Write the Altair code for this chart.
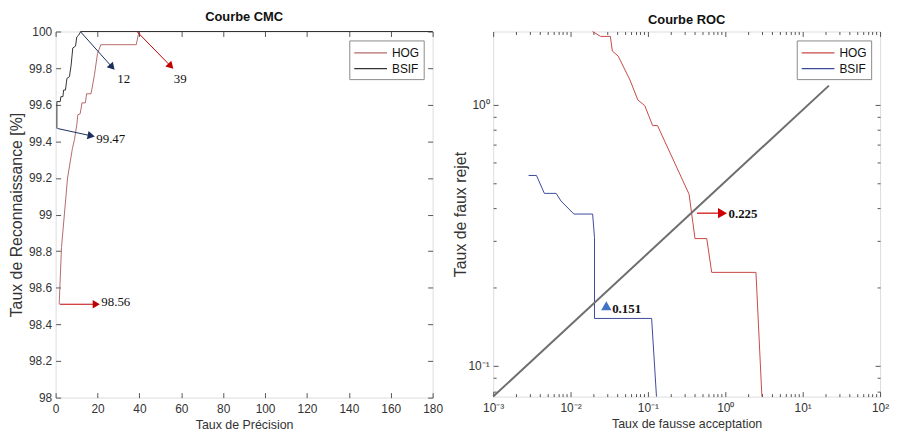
import altair as alt
import pandas as pd

# ---------------- CMC (left) ----------------
cmc_hog_x = [1.7, 2.8, 5.7, 8.0, 9.0, 10.1, 10.6, 11.7, 12.6, 14.2, 14.8, 16.9, 18.5, 20.0, 21.6, 38.5, 39.8, 180]
cmc_hog_y = [98.51, 98.82, 99.20, 99.36, 99.41, 99.49, 99.545, 99.55, 99.61, 99.61, 99.66, 99.66, 99.76, 99.88, 99.928, 99.928, 100, 100]
cmc_bsif_x = [0.6, 0.6, 2.2, 2.5, 3.5, 3.8, 4.7, 5.4, 6.6, 7.4, 8.2, 9.5, 10.1, 11.0, 12.0, 180]
cmc_bsif_y = [99.47, 99.617, 99.617, 99.644, 99.644, 99.68, 99.68, 99.744, 99.753, 99.816, 99.91, 99.92, 99.97, 99.98, 100, 100]

cmc_arrow_x = [11.8, 38.8, 0.9, 2.0]
cmc_arrow_y = [100, 100, 99.47, 98.51]
cmc_arrow_x2 = [27.0, 55.0, 17.0, 19.4]
cmc_arrow_y2 = [99.805, 99.81, 99.43, 98.51]
cmc_arrow_color = ["#1b2f5e", "#c00000", "#1b2f5e", "#c00000"]
cmc_arrow_angle = [48, 46, 12, 0]
cmc_label_text = ["12", "39", "99.47", "98.56"]
cmc_label_x = [29.4, 56.4, 19.4, 21.8]
cmc_label_y = [99.74, 99.74, 99.415, 98.52]

cmc_x_ticks = [0, 20, 40, 60, 80, 100, 120, 140, 160, 180]
cmc_y_ticks = [98, 98.2, 98.4, 98.6, 98.8, 99, 99.2, 99.4, 99.6, 99.8, 100]

# ---------------- ROC (right) ----------------
roc_hog_x = [0.0193, 0.0244, 0.0327, 0.0347, 0.0413, 0.0586, 0.0741, 0.091, 0.115, 0.133, 0.340, 0.406, 0.576, 0.667, 2.49, 2.97]
roc_hog_y = [1.90, 1.82, 1.82, 1.60, 1.53, 1.24, 1.04, 0.99, 0.83, 0.83, 0.454, 0.307, 0.307, 0.228, 0.228, 0.0764]
roc_bsif_x = [0.00287, 0.00363, 0.00459, 0.00652, 0.00755, 0.01105, 0.0193, 0.0204, 0.0204, 0.1117, 0.129]
roc_bsif_y = [0.535, 0.535, 0.457, 0.457, 0.427, 0.381, 0.381, 0.31, 0.152, 0.152, 0.0764]
roc_diag_x = [0.001, 21.8]
roc_diag_y = [0.0764, 1.18]

roc_arrow_x = [0.43]
roc_arrow_x2 = [0.92]
roc_arrow_y = [0.384]
roc_marker_x = [0.92, 0.029]
roc_marker_y = [0.384, 0.17]
roc_marker_shape = ["triangle-right", "triangle-up"]
roc_marker_color = ["#d00000", "#4472c4"]
roc_label_text = ["0.225", "0.151"]
roc_label_x = [1.10, 0.0345]
roc_label_y = [0.38, 0.1655]

roc_x_major = [0.001, 0.01, 0.1, 1, 10, 100]
roc_y_major = [0.1, 1]
roc_x_minor = [m * 10.0 ** e for e in range(-3, 2) for m in range(2, 10)]
roc_y_minor = [m * 10.0 ** e for e in [-2, -1, 0] for m in range(2, 10)]

FONT = "Liberation Sans"
SERIF = "Liberation Serif"
AX_COL = "#333333"


def series_frame(names, xs, ys):
    rows = []
    for name, xv, yv in zip(names, xs, ys):
        for i, (a, b) in enumerate(zip(xv, yv)):
            rows.append({"serie": name, "x": a, "y": b, "idx": i})
    return pd.DataFrame(rows)


def main_axis(title, values, **kw):
    return alt.Axis(values=values, title=title, grid=False, domain=False, labelFlush=False,
                    offset=-5, tickSize=5, tickColor="#555", labelFont=FONT,
                    labelFontSize=12, labelColor=AX_COL, titleFont=FONT,
                    titleFontWeight="normal", titleColor=AX_COL, **kw)


def mirror_axis(orient, values, size=5):
    return alt.Axis(orient=orient, values=values, labels=False, title=None,
                    grid=False, domain=False, offset=-size, tickSize=size,
                    tickColor="#555")


def legend():
    return alt.Legend(title=None, orient="top-right", offset=9, fillColor="white",
                      strokeColor="#8a8a8a", padding=4, symbolType="M-1,0L3.4,0",
                      symbolSize=225, symbolStrokeWidth=1.2, labelFont=FONT,
                      labelFontSize=12, labelColor="#111", rowPadding=1, labelOffset=22)


# ---------- left chart ----------
cmc_df = series_frame(["HOG", "BSIF"], [cmc_hog_x, cmc_bsif_x], [cmc_hog_y, cmc_bsif_y])
xs_cmc = alt.Scale(domain=[0, 180], nice=False, zero=False)
ys_cmc = alt.Scale(domain=[98, 100], nice=False, zero=False)

cmc_lines = alt.Chart(cmc_df).mark_line(strokeWidth=1).encode(
    x=alt.X("x:Q", scale=xs_cmc, axis=main_axis("Taux de Précision", cmc_x_ticks,
                                                labelPadding=6, titleFontSize=12.5, titlePadding=4)),
    y=alt.Y("y:Q", scale=ys_cmc, axis=main_axis("Taux de Reconnaissance [%]", cmc_y_ticks,
                                                labelPadding=4, titleFontSize=16, titlePadding=4,
                                                format="~g")),
    color=alt.Color("serie:N", scale=alt.Scale(domain=["HOG", "BSIF"], range=["#b56a6a", "#333333"]),
                    legend=legend()),
    order="idx:Q",
)

cmc_mirror = alt.Chart(cmc_df).mark_point(opacity=0).encode(
    x=alt.X("x:Q", scale=xs_cmc, axis=mirror_axis("top", cmc_x_ticks)),
    y=alt.Y("y:Q", scale=ys_cmc, axis=mirror_axis("right", cmc_y_ticks)),
)

cmc_ann = pd.DataFrame({"x": cmc_arrow_x, "y": cmc_arrow_y, "x2": cmc_arrow_x2, "y2": cmc_arrow_y2,
                        "c": cmc_arrow_color, "a": cmc_arrow_angle})
cmc_rules = alt.Chart(cmc_ann).mark_rule(strokeWidth=1).encode(
    x=alt.X("x:Q", scale=xs_cmc, axis=None), y=alt.Y("y:Q", scale=ys_cmc, axis=None),
    x2="x2:Q", y2="y2:Q", color=alt.Color("c:N", scale=None),
)
cmc_heads = alt.Chart(cmc_ann).mark_point(shape="triangle-right", filled=True, size=70, opacity=1).encode(
    x=alt.X("x2:Q", scale=xs_cmc, axis=None), y=alt.Y("y2:Q", scale=ys_cmc, axis=None),
    color=alt.Color("c:N", scale=None), angle=alt.Angle("a:Q", scale=None),
)
cmc_txt_df = pd.DataFrame({"t": cmc_label_text, "x": cmc_label_x, "y": cmc_label_y})
cmc_texts = alt.Chart(cmc_txt_df).mark_text(align="left", baseline="middle", font=SERIF,
                                             fontSize=13, color="#111").encode(
    x=alt.X("x:Q", scale=xs_cmc, axis=None), y=alt.Y("y:Q", scale=ys_cmc, axis=None), text="t:N",
)

left = alt.layer(cmc_lines, cmc_mirror, cmc_rules, cmc_heads, cmc_texts).resolve_axis(
    x="independent", y="independent"
).properties(
    width=380, height=369,
    title=alt.TitleParams("Courbe CMC", font=FONT, fontSize=13, fontWeight="bold", color="#111",
                          offset=2),
)

# ---------- right chart ----------
roc_df = series_frame(["HOG", "BSIF"], [roc_hog_x, roc_bsif_x], [roc_hog_y, roc_bsif_y])
xs_roc = alt.Scale(type="log", domain=[0.001, 100], nice=False)
ys_roc = alt.Scale(type="log", domain=[0.0764, 1.9], nice=False)
sup = "['⁻³','⁻²','⁻¹','⁰','¹','²'][round(log(datum.value)/LN10)+3]"

roc_lines = alt.Chart(roc_df).mark_line(strokeWidth=1).encode(
    x=alt.X("x:Q", scale=xs_roc, axis=main_axis("Taux de fausse acceptation", roc_x_major,
                                                labelPadding=6, titleFontSize=12.5, titlePadding=4,
                                                labelExpr="'10' + " + sup)),
    y=alt.Y("y:Q", scale=ys_roc, axis=main_axis("Taux de faux rejet", roc_y_major,
                                                labelPadding=4, titleFontSize=16, titlePadding=0,
                                                labelExpr="'10' + " + sup)),
    color=alt.Color("serie:N", scale=alt.Scale(domain=["HOG", "BSIF"], range=["#c84848", "#3c4a9c"]),
                    legend=legend()),
    order="idx:Q",
)

diag_df = pd.DataFrame({"x": roc_diag_x, "y": roc_diag_y})
roc_diag = alt.Chart(diag_df).mark_line(strokeWidth=2, color="#6e6e6e").encode(
    x=alt.X("x:Q", scale=xs_roc, axis=mirror_axis("bottom", roc_x_minor, 3)),
    y=alt.Y("y:Q", scale=ys_roc, axis=mirror_axis("left", roc_y_minor, 3)),
)
roc_mirror1 = alt.Chart(diag_df).mark_point(opacity=0).encode(
    x=alt.X("x:Q", scale=xs_roc, axis=mirror_axis("top", roc_x_major, 5)),
    y=alt.Y("y:Q", scale=ys_roc, axis=mirror_axis("right", roc_y_major, 5)),
)
roc_mirror2 = alt.Chart(diag_df).mark_point(opacity=0).encode(
    x=alt.X("x:Q", scale=xs_roc, axis=mirror_axis("top", roc_x_minor, 3)),
    y=alt.Y("y:Q", scale=ys_roc, axis=mirror_axis("right", roc_y_minor, 3)),
)

roc_arr_df = pd.DataFrame({"x": roc_arrow_x, "x2": roc_arrow_x2, "y": roc_arrow_y})
roc_rule = alt.Chart(roc_arr_df).mark_rule(strokeWidth=1.2, color="#d00000").encode(
    x=alt.X("x:Q", scale=xs_roc, axis=None), x2="x2:Q", y=alt.Y("y:Q", scale=ys_roc, axis=None),
)
roc_mk_df = pd.DataFrame({"x": roc_marker_x, "y": roc_marker_y, "s": roc_marker_shape, "c": roc_marker_color})
roc_marks = alt.Chart(roc_mk_df).mark_point(filled=True, size=110, opacity=1).encode(
    x=alt.X("x:Q", scale=xs_roc, axis=None), y=alt.Y("y:Q", scale=ys_roc, axis=None),
    shape=alt.Shape("s:N", scale=None), color=alt.Color("c:N", scale=None),
)
roc_txt_df = pd.DataFrame({"t": roc_label_text, "x": roc_label_x, "y": roc_label_y})
roc_texts = alt.Chart(roc_txt_df).mark_text(align="left", baseline="middle", font=SERIF,
                                             fontSize=13, fontWeight="bold", color="#111").encode(
    x=alt.X("x:Q", scale=xs_roc, axis=None), y=alt.Y("y:Q", scale=ys_roc, axis=None), text="t:N",
)

right = alt.layer(roc_lines, roc_diag, roc_mirror1, roc_mirror2, roc_rule, roc_marks, roc_texts).resolve_axis(
    x="independent", y="independent"
).properties(
    width=390, height=368,
    title=alt.TitleParams("Courbe ROC", font=FONT, fontSize=13, fontWeight="bold", color="#111",
                          offset=3),
)

chart = alt.hconcat(left, right, spacing=8).resolve_scale(color="independent").resolve_legend(
    color="independent"
).properties(
    padding={"left": 0, "top": 0, "right": 0, "bottom": 0}
).configure_view(stroke="#8c8c8c", strokeWidth=1).configure(background="white")

chart.save("out.html", embed_options={"renderer": "svg", "actions": False})
